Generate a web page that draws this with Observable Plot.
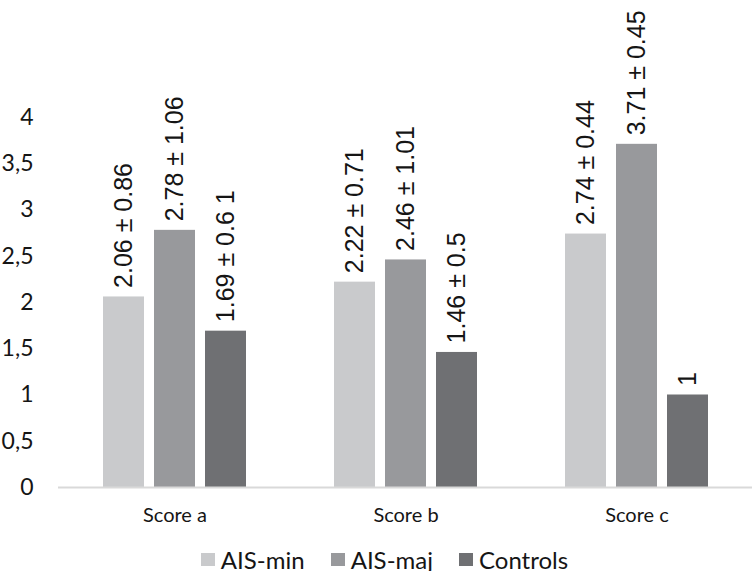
<!DOCTYPE html>
<html>
<head>
<meta charset="utf-8">
<script src="https://cdn.jsdelivr.net/npm/d3@7"></script>
<script src="https://cdn.jsdelivr.net/npm/@observablehq/plot@0.6"></script>
<style>
  html, body { margin: 0; padding: 0; background: #fff; }
  #chart svg { display: block; }
  .legend { display: flex; justify-content: center; align-items: center; margin-top: 7px; height: 24px;
            font-family: Lato, "Open Sans", sans-serif; font-size: 24px; color: #151515; padding-left: 14px; }
  .legend .item { display: flex; align-items: center; margin-right: 26px; }
  .legend .item:last-child { margin-right: 0; }
  .legend .sw { width: 14px; height: 13px; margin-right: 6px; }
</style>
</head>
<body>
<div id="chart"></div>
<script>
const categories = ["Score a", "Score b", "Score c"];
const series = ["AIS-min", "AIS-maj", "Controls"];
const aisMin = [2.06, 2.22, 2.74];
const aisMaj = [2.78, 2.46, 3.71];
const controls = [1.69, 1.46, 1];
const aisMinLabels = ["2.06 ± 0.86", "2.22 ± 0.71", "2.74 ± 0.44"];
const aisMajLabels = ["2.78 ± 1.06", "2.46 ± 1.01", "3.71 ± 0.45"];
const controlsLabels = ["1.69 ± 0.6 1", "1.46 ± 0.5", "1"];
const colors = ["#c9cacc", "#98999c", "#6f7073"];
const yTicks = [0, 0.5, 1, 1.5, 2, 2.5, 3, 3.5, 4];

const seriesValues = [aisMin, aisMaj, controls];
const seriesLabels = [aisMinLabels, aisMajLabels, controlsLabels];
const data = series.map((s, i) => categories.map((c, j) => ({
  category: c, series: s, value: seriesValues[i][j], label: seriesLabels[i][j]
})));

const offsets = [-51, 0, 51];
const marks = [];
data.forEach((rows, i) => {
  marks.push(Plot.barY(rows, {x: "category", y: "value", fill: "series", dx: offsets[i]}));
  marks.push(Plot.text(rows, {
    x: "category", y: "value", text: "label", dx: offsets[i], dy: -9,
    rotate: -90, textAnchor: "start", lineAnchor: "middle",
    fontFamily: "'Liberation Sans', Arial, sans-serif", fontSize: 25, fill: "#151515"
  }));
});
marks.push(Plot.ruleY([0], {stroke: "#d9d9d9", strokeWidth: 2}));

const plot = Plot.plot({
  width: 755,
  height: 540,
  marginLeft: 58,
  marginRight: 3,
  marginTop: 117,
  marginBottom: 53,
  style: {fontFamily: "Lato, 'Open Sans', sans-serif", color: "#151515", background: "#fff"},
  x: {domain: categories, paddingInner: 0.823, paddingOuter: 0.4115, label: null, tickSize: 0, tickPadding: 20},
  y: {domain: [0, 4], ticks: yTicks, label: null, tickSize: 0, tickPadding: 25,
      tickFormat: d => String(d).replace(".", ",")},
  color: {domain: series, range: colors},
  marks
});
plot.querySelectorAll("g[aria-label='x-axis tick label'] text").forEach(t => t.style.fontSize = "20px");
plot.querySelectorAll("g[aria-label='y-axis tick label'] text").forEach(t => t.style.fontSize = "23px");
document.getElementById("chart").appendChild(plot);

const legend = document.createElement("div");
legend.className = "legend";
const cs = Plot.scale({color: {domain: series, range: colors}});
series.forEach(s => {
  const item = document.createElement("div");
  item.className = "item";
  const sw = document.createElement("div");
  sw.className = "sw";
  sw.style.background = cs.apply(s);
  const lab = document.createElement("span");
  lab.textContent = s;
  item.appendChild(sw);
  item.appendChild(lab);
  legend.appendChild(item);
});
document.getElementById("chart").appendChild(legend);
</script>
</body>
</html>
